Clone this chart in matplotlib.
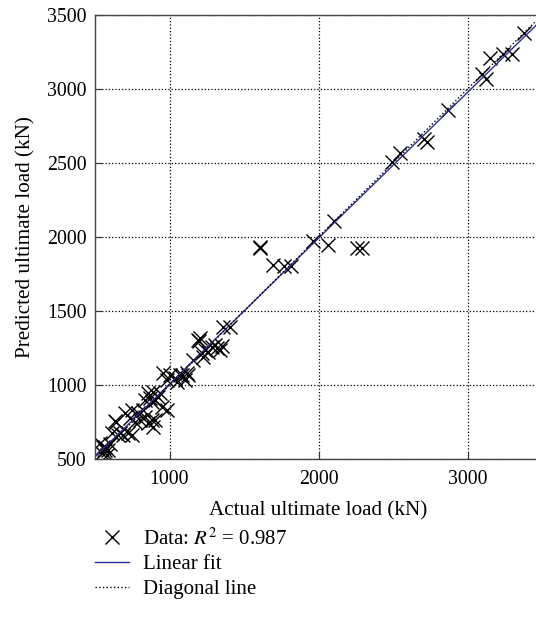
import numpy as np
import matplotlib.pyplot as plt

plt.rcParams['font.family'] = ['Liberation Serif', 'DejaVu Serif']
plt.rcParams['mathtext.fontset'] = 'stix'

# actual vs predicted ultimate load (kN)
actual = [3381, 3151, 3236, 3301, 3095, 3124, 2871, 2710, 2726, 2547, 2491,
          2106, 1961, 2066, 2256, 2290, 1607, 1610, 1693, 1771, 1813,
          1357, 1406, 1193, 1207, 1200,
          1160, 1216, 1238, 1283, 1317, 1339, 1305, 1260, 1227, 1350,
          958, 1003, 1037, 1070, 1115, 1048, 981, 1081, 1126, 1104,
          858, 892, 925, 836, 903, 869, 936, 947, 981, 880,
          746, 791, 824, 836, 880, 768, 802, 858, 735, 701, 903, 892,
          634, 640, 612, 668, 723, 690, 746, 656,
          534, 567, 589, 545, 579, 556, 600, 570]
predicted = [3380, 3212, 3235, 3235, 3099, 3065, 2858, 2662, 2644, 2570, 2509,
             2108, 1973, 1946, 1928, 1928, 1928, 1935, 1814, 1803, 1803,
             1394, 1390, 1304, 1315, 1300,
             1169, 1214, 1236, 1259, 1248, 1236, 1270, 1225, 1191, 1262,
             1079, 1068, 1045, 1068, 1079, 1022, 1034, 1068, 1068, 1034,
             944, 955, 921, 899, 899, 910, 944, 853, 831, 887,
             831, 809, 831, 786, 763, 752, 763, 741, 775, 809, 763, 718,
             759, 752, 673, 673, 673, 662, 662, 662,
             606, 583, 561, 538, 527, 579, 600, 560]

x_ticks = [1000, 2000, 3000]
y_ticks = [500, 1000, 1500, 2000, 2500, 3000, 3500]

fit_slope = 0.985
fit_icept = 22
line_x = np.array([500, 3500])

fig = plt.figure(figsize=(5.36, 6.29), dpi=100)
ax = fig.add_axes([95 / 536, 170 / 629, 447 / 536, 444 / 629])

ax.plot(actual, predicted, 'x', color='black', markersize=9.5, markeredgewidth=1.0,
        label='Data: $R^2$ = 0.987')
ax.plot(line_x, fit_slope * line_x + fit_icept, '-', color='#2e2e9e', lw=1.0,
        label='Linear fit')
ax.plot(line_x, line_x, ':', color='black', lw=1.0, label='Diagonal line')

ax.set_xlim(500, 3500)
ax.set_ylim(500, 3500)
ax.set_xticks(x_ticks)
ax.set_yticks(y_ticks)
ax.grid(True, linestyle=':', color='black', lw=0.9)
ax.tick_params(direction='in', length=5, labelsize=14.3, color='#333333')
ax.tick_params(axis='x', pad=8)
ax.tick_params(axis='y', pad=6)
for s in ax.spines.values():
    s.set_color('#444444')
    s.set_linewidth(1.0)

ax.set_xlabel('Actual ultimate load (kN)', fontsize=15.2, labelpad=9)
ax.set_ylabel('Predicted ultimate load (kN)', fontsize=15.2, labelpad=8)

fig.legend(loc='upper left', bbox_to_anchor=(95 / 536, 1 - 528 / 629),
           frameon=False, fontsize=15, borderpad=0, borderaxespad=0,
           handlelength=1.65, handletextpad=0.65, labelspacing=0.25)

fig.savefig('out.png', dpi=100)
